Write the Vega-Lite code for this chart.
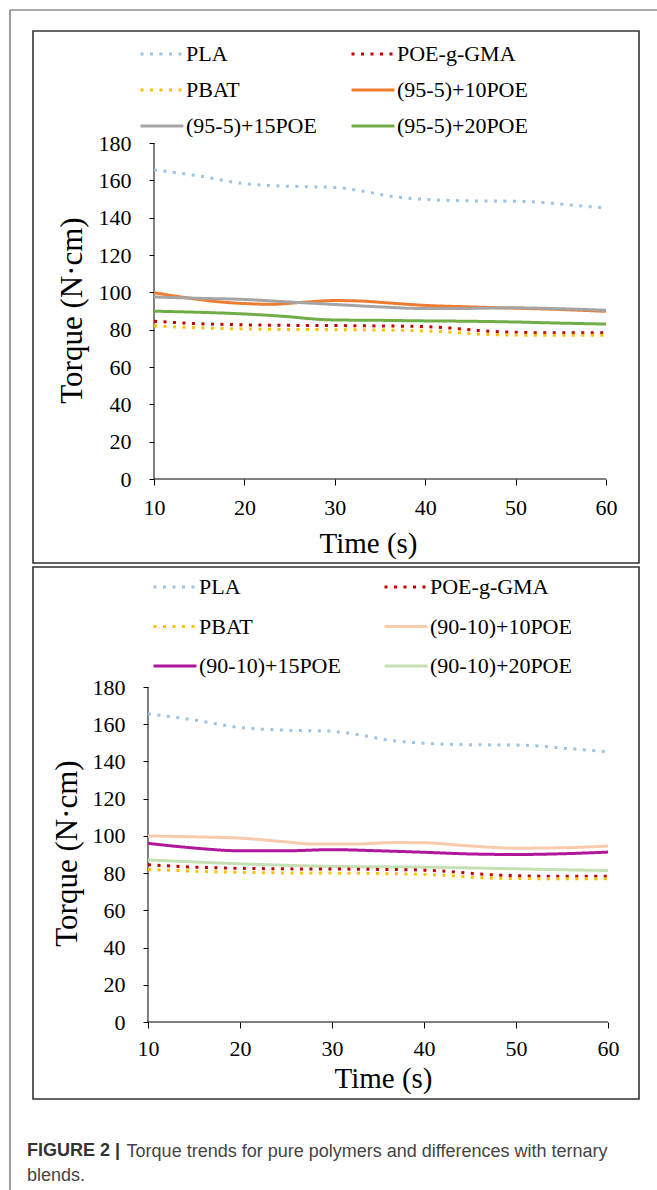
{
  "$schema": "https://vega.github.io/schema/vega-lite/v6.json",
  "background": "white",
  "padding": {"left": 8, "top": 8, "right": 0, "bottom": 0},
  "spacing": 4,
  "bounds": "flush",
  "config": {
    "view": {"stroke": "#333333", "strokeWidth": 1.6},
    "axis": {"grid": false, "domain": false, "labelFont": "Liberation Serif", "labelFontSize": 22, "labelColor": "#000000", "tickColor": "#000000", "tickWidth": 1, "titleFont": "Liberation Serif", "titleFontSize": 29, "titleFontWeight": "normal", "titleColor": "#000000", "labelFlush": false, "labelOverlap": false},
    "axisY": {"titleFontSize": 31},
    "legend": {"orient": "none", "direction": "horizontal", "columns": 2, "symbolType": "stroke", "symbolSize": 1849, "symbolStrokeWidth": 3, "labelFont": "Liberation Serif", "labelFontSize": 22, "labelColor": "#000000", "labelOffset": 1, "padding": 0}
  },
  "title": {"text": "Torque trends for pure polymers and differences with ternary", "orient": "bottom", "anchor": "start", "frame": "bounds", "dx": 118, "offset": -50, "font": "Liberation Sans", "fontSize": 18, "fontWeight": "normal", "color": "#444444"},
  "datasets": {
    "pure": [
      {"s": "PLA", "t": 10, "v": 165.6}, {"s": "PLA", "t": 15, "v": 162.3}, {"s": "PLA", "t": 20, "v": 158.2}, {"s": "PLA", "t": 25, "v": 156.8}, {"s": "PLA", "t": 30, "v": 156.2}, {"s": "PLA", "t": 33, "v": 154.3}, {"s": "PLA", "t": 36, "v": 151.6}, {"s": "PLA", "t": 40, "v": 149.8}, {"s": "PLA", "t": 45, "v": 149}, {"s": "PLA", "t": 50, "v": 148.8}, {"s": "PLA", "t": 53, "v": 148.1}, {"s": "PLA", "t": 56, "v": 146.8}, {"s": "PLA", "t": 60, "v": 145.2},
      {"s": "POE-g-GMA", "t": 10, "v": 84.5}, {"s": "POE-g-GMA", "t": 15, "v": 83.2}, {"s": "POE-g-GMA", "t": 20, "v": 82.6}, {"s": "POE-g-GMA", "t": 25, "v": 82.3}, {"s": "POE-g-GMA", "t": 30, "v": 82.2}, {"s": "POE-g-GMA", "t": 35, "v": 82}, {"s": "POE-g-GMA", "t": 40, "v": 81.6}, {"s": "POE-g-GMA", "t": 43, "v": 80.8}, {"s": "POE-g-GMA", "t": 46, "v": 79.5}, {"s": "POE-g-GMA", "t": 50, "v": 78.6}, {"s": "POE-g-GMA", "t": 55, "v": 78.3}, {"s": "POE-g-GMA", "t": 60, "v": 78.3},
      {"s": "PBAT", "t": 10, "v": 82}, {"s": "PBAT", "t": 15, "v": 81}, {"s": "PBAT", "t": 20, "v": 80.4}, {"s": "PBAT", "t": 25, "v": 80.1}, {"s": "PBAT", "t": 30, "v": 80}, {"s": "PBAT", "t": 35, "v": 79.8}, {"s": "PBAT", "t": 40, "v": 79.3}, {"s": "PBAT", "t": 43, "v": 78.6}, {"s": "PBAT", "t": 46, "v": 77.6}, {"s": "PBAT", "t": 50, "v": 77.1}, {"s": "PBAT", "t": 55, "v": 77}, {"s": "PBAT", "t": 60, "v": 77}
    ],
    "b95": [
      {"s": "(95-5)+10POE", "t": 10, "v": 99.8}, {"s": "(95-5)+10POE", "t": 13, "v": 97.5}, {"s": "(95-5)+10POE", "t": 17, "v": 95}, {"s": "(95-5)+10POE", "t": 20, "v": 94}, {"s": "(95-5)+10POE", "t": 23, "v": 93.6}, {"s": "(95-5)+10POE", "t": 26, "v": 94.5}, {"s": "(95-5)+10POE", "t": 30, "v": 95.6}, {"s": "(95-5)+10POE", "t": 33, "v": 95.3}, {"s": "(95-5)+10POE", "t": 36, "v": 94.3}, {"s": "(95-5)+10POE", "t": 40, "v": 93}, {"s": "(95-5)+10POE", "t": 45, "v": 92.2}, {"s": "(95-5)+10POE", "t": 50, "v": 91.5}, {"s": "(95-5)+10POE", "t": 55, "v": 90.8}, {"s": "(95-5)+10POE", "t": 60, "v": 89.8},
      {"s": "(95-5)+15POE", "t": 10, "v": 97.5}, {"s": "(95-5)+15POE", "t": 15, "v": 96.8}, {"s": "(95-5)+15POE", "t": 20, "v": 96.2}, {"s": "(95-5)+15POE", "t": 25, "v": 94.8}, {"s": "(95-5)+15POE", "t": 30, "v": 93.5}, {"s": "(95-5)+15POE", "t": 35, "v": 92.2}, {"s": "(95-5)+15POE", "t": 40, "v": 91.3}, {"s": "(95-5)+15POE", "t": 45, "v": 91.4}, {"s": "(95-5)+15POE", "t": 50, "v": 91.7}, {"s": "(95-5)+15POE", "t": 55, "v": 91.2}, {"s": "(95-5)+15POE", "t": 60, "v": 90.4},
      {"s": "(95-5)+20POE", "t": 10, "v": 89.9}, {"s": "(95-5)+20POE", "t": 15, "v": 89.3}, {"s": "(95-5)+20POE", "t": 20, "v": 88.4}, {"s": "(95-5)+20POE", "t": 25, "v": 86.9}, {"s": "(95-5)+20POE", "t": 28, "v": 85.6}, {"s": "(95-5)+20POE", "t": 30, "v": 85.2}, {"s": "(95-5)+20POE", "t": 35, "v": 85}, {"s": "(95-5)+20POE", "t": 40, "v": 84.7}, {"s": "(95-5)+20POE", "t": 45, "v": 84.5}, {"s": "(95-5)+20POE", "t": 50, "v": 84.1}, {"s": "(95-5)+20POE", "t": 55, "v": 83.5}, {"s": "(95-5)+20POE", "t": 60, "v": 83}
    ],
    "b90": [
      {"s": "(90-10)+10POE", "t": 10, "v": 100}, {"s": "(90-10)+10POE", "t": 15, "v": 99.5}, {"s": "(90-10)+10POE", "t": 20, "v": 98.8}, {"s": "(90-10)+10POE", "t": 25, "v": 96.8}, {"s": "(90-10)+10POE", "t": 28, "v": 95.6}, {"s": "(90-10)+10POE", "t": 32, "v": 95.6}, {"s": "(90-10)+10POE", "t": 37, "v": 96.4}, {"s": "(90-10)+10POE", "t": 40, "v": 96.3}, {"s": "(90-10)+10POE", "t": 45, "v": 94.6}, {"s": "(90-10)+10POE", "t": 50, "v": 93.4}, {"s": "(90-10)+10POE", "t": 55, "v": 93.6}, {"s": "(90-10)+10POE", "t": 60, "v": 94.6},
      {"s": "(90-10)+15POE", "t": 10, "v": 96}, {"s": "(90-10)+15POE", "t": 15, "v": 93.5}, {"s": "(90-10)+15POE", "t": 20, "v": 92}, {"s": "(90-10)+15POE", "t": 25, "v": 92}, {"s": "(90-10)+15POE", "t": 30, "v": 92.6}, {"s": "(90-10)+15POE", "t": 35, "v": 92}, {"s": "(90-10)+15POE", "t": 40, "v": 91.2}, {"s": "(90-10)+15POE", "t": 45, "v": 90.3}, {"s": "(90-10)+15POE", "t": 50, "v": 90}, {"s": "(90-10)+15POE", "t": 55, "v": 90.4}, {"s": "(90-10)+15POE", "t": 60, "v": 91.3},
      {"s": "(90-10)+20POE", "t": 10, "v": 87.1}, {"s": "(90-10)+20POE", "t": 15, "v": 86}, {"s": "(90-10)+20POE", "t": 20, "v": 85}, {"s": "(90-10)+20POE", "t": 25, "v": 84.2}, {"s": "(90-10)+20POE", "t": 30, "v": 83.6}, {"s": "(90-10)+20POE", "t": 35, "v": 83.4}, {"s": "(90-10)+20POE", "t": 40, "v": 83.2}, {"s": "(90-10)+20POE", "t": 45, "v": 82.8}, {"s": "(90-10)+20POE", "t": 50, "v": 82.3}, {"s": "(90-10)+20POE", "t": 55, "v": 81.8}, {"s": "(90-10)+20POE", "t": 60, "v": 81.4}
    ]
  },
  "vconcat": [
    {
      "width": 606,
      "height": 532,
      "layer": [
        {
          "data": {"values": [{}]},
          "mark": {"type": "rule", "color": "#5a5a5a", "strokeWidth": 1.2},
          "encoding": {
            "x": {"datum": -5.929, "type": "quantitative", "scale": {"domain": [-3.385, 63.65], "nice": false, "zero": false}, "axis": {"values": [10, 20, 30, 40, 50, 60], "offset": -84, "tickSize": 6, "labelPadding": 12, "title": "Time (s)", "titleX": 335, "titlePadding": 11}},
            "y": {"datum": 251.25, "type": "quantitative", "scale": {"domain": [-45, 240], "nice": false, "zero": false}, "axis": {"values": [0, 20, 40, 60, 80, 100, 120, 140, 160, 180], "offset": -121, "tickSize": 5, "labelPadding": 18, "title": "Torque (N·cm)", "titleY": 279, "titlePadding": 10}},
            "y2": {"datum": -382}
          }
        },
        {
          "data": {"values": [{}]},
          "mark": {"type": "rule", "color": "#5a5a5a", "strokeWidth": 1.2},
          "encoding": {
            "x": {"datum": -5.929, "type": "quantitative", "scale": {"domain": [-3.385, 63.65], "nice": false, "zero": false}, "axis": {"values": [10, 20, 30, 40, 50, 60], "offset": -84, "tickSize": 6, "labelPadding": 12, "title": "Time (s)", "titleX": 335, "titlePadding": 11}},
            "x2": {"datum": 66.5},
            "y": {"datum": 251.25, "type": "quantitative", "scale": {"domain": [-45, 240], "nice": false, "zero": false}, "axis": {"values": [0, 20, 40, 60, 80, 100, 120, 140, 160, 180], "offset": -121, "tickSize": 5, "labelPadding": 18, "title": "Torque (N·cm)", "titleY": 279, "titlePadding": 10}}
          }
        },
        {
          "data": {"values": [{}]},
          "mark": {"type": "rule", "color": "#000000", "strokeWidth": 1},
          "encoding": {
            "x": {"datum": 10, "type": "quantitative", "scale": {"domain": [-3.385, 63.65], "nice": false, "zero": false}, "axis": {"values": [10, 20, 30, 40, 50, 60], "offset": -84, "tickSize": 6, "labelPadding": 12, "title": "Time (s)", "titleX": 335, "titlePadding": 11}},
            "y": {"datum": 0, "type": "quantitative", "scale": {"domain": [-45, 240], "nice": false, "zero": false}, "axis": {"values": [0, 20, 40, 60, 80, 100, 120, 140, 160, 180], "offset": -121, "tickSize": 5, "labelPadding": 18, "title": "Torque (N·cm)", "titleY": 279, "titlePadding": 10}},
            "y2": {"datum": 180}
          }
        },
        {
          "data": {"values": [{}]},
          "mark": {"type": "rule", "color": "#000000", "strokeWidth": 1},
          "encoding": {
            "x": {"datum": 10, "type": "quantitative", "scale": {"domain": [-3.385, 63.65], "nice": false, "zero": false}, "axis": {"values": [10, 20, 30, 40, 50, 60], "offset": -84, "tickSize": 6, "labelPadding": 12, "title": "Time (s)", "titleX": 335, "titlePadding": 11}},
            "x2": {"datum": 60},
            "y": {"datum": 0, "type": "quantitative", "scale": {"domain": [-45, 240], "nice": false, "zero": false}, "axis": {"values": [0, 20, 40, 60, 80, 100, 120, 140, 160, 180], "offset": -121, "tickSize": 5, "labelPadding": 18, "title": "Torque (N·cm)", "titleY": 279, "titlePadding": 10}}
          }
        },
        {
          "data": {"name": "b95"},
          "mark": {"type": "line", "interpolate": "monotone", "strokeWidth": 3},
          "encoding": {
            "x": {"field": "t", "type": "quantitative", "scale": {"domain": [-3.385, 63.65], "nice": false, "zero": false}, "axis": {"values": [10, 20, 30, 40, 50, 60], "offset": -84, "tickSize": 6, "labelPadding": 12, "title": "Time (s)", "titleX": 335, "titlePadding": 11}},
            "y": {"field": "v", "type": "quantitative", "scale": {"domain": [-45, 240], "nice": false, "zero": false}, "axis": {"values": [0, 20, 40, 60, 80, 100, 120, 140, 160, 180], "offset": -121, "tickSize": 5, "labelPadding": 18, "title": "Torque (N·cm)", "titleY": 279, "titlePadding": 10}},
            "color": {"field": "s", "type": "nominal", "scale": {"domain": ["PLA", "POE-g-GMA", "PBAT", "(95-5)+10POE", "(95-5)+15POE", "(95-5)+20POE"], "range": ["#9DC3E6", "#C00000", "#FFC000", "#ED7D31", "#A5A5A5", "#70AD47"]}, "legend": {"title": null, "legendX": 106, "legendY": 0, "columnPadding": 28, "rowPadding": 2}},
            "strokeDash": {"field": "s", "type": "nominal", "scale": {"domain": ["PLA", "POE-g-GMA", "PBAT", "(95-5)+10POE", "(95-5)+15POE", "(95-5)+20POE"], "range": [[3, 6.5], [3, 6.5], [3, 6.5], [1, 0], [1, 0], [1, 0]]}, "legend": {"title": null, "legendX": 106, "legendY": 0, "columnPadding": 28, "rowPadding": 2}}
          }
        },
        {
          "data": {"name": "pure"},
          "mark": {"type": "line", "interpolate": "monotone", "strokeWidth": 3},
          "encoding": {
            "x": {"field": "t", "type": "quantitative", "scale": {"domain": [-3.385, 63.65], "nice": false, "zero": false}, "axis": {"values": [10, 20, 30, 40, 50, 60], "offset": -84, "tickSize": 6, "labelPadding": 12, "title": "Time (s)", "titleX": 335, "titlePadding": 11}},
            "y": {"field": "v", "type": "quantitative", "scale": {"domain": [-45, 240], "nice": false, "zero": false}, "axis": {"values": [0, 20, 40, 60, 80, 100, 120, 140, 160, 180], "offset": -121, "tickSize": 5, "labelPadding": 18, "title": "Torque (N·cm)", "titleY": 279, "titlePadding": 10}},
            "color": {"field": "s", "type": "nominal", "scale": {"domain": ["PLA", "POE-g-GMA", "PBAT", "(95-5)+10POE", "(95-5)+15POE", "(95-5)+20POE"], "range": ["#9DC3E6", "#C00000", "#FFC000", "#ED7D31", "#A5A5A5", "#70AD47"]}, "legend": {"title": null, "legendX": 106, "legendY": 0, "columnPadding": 28, "rowPadding": 2}},
            "strokeDash": {"field": "s", "type": "nominal", "scale": {"domain": ["PLA", "POE-g-GMA", "PBAT", "(95-5)+10POE", "(95-5)+15POE", "(95-5)+20POE"], "range": [[3, 6.5], [3, 6.5], [3, 6.5], [1, 0], [1, 0], [1, 0]]}, "legend": {"title": null, "legendX": 106, "legendY": 0, "columnPadding": 28, "rowPadding": 2}}
          }
        }
      ]
    },
    {
      "width": 606,
      "height": 532,
      "title": {"text": "FIGURE 2 |", "subtitle": "blends.", "orient": "bottom", "anchor": "start", "frame": "group", "dx": -6, "offset": 43, "font": "Liberation Sans", "fontSize": 18, "fontWeight": "bold", "color": "#333333", "subtitleFont": "Liberation Sans", "subtitleFontSize": 18, "subtitleFontWeight": "normal", "subtitleColor": "#444444", "subtitlePadding": 7},
      "layer": [
        {
          "data": {"values": [{}]},
          "mark": {"type": "rule", "color": "#000000", "strokeWidth": 1},
          "encoding": {
            "x": {"datum": 10, "type": "quantitative", "scale": {"domain": [-2.5, 63.37], "nice": false, "zero": false}, "axis": {"values": [10, 20, 30, 40, 50, 60], "offset": -77, "tickSize": 6, "labelPadding": 10, "title": "Time (s)", "titleX": 350, "titlePadding": 5}},
            "y": {"datum": 0, "type": "quantitative", "scale": {"domain": [-41.37, 244.48], "nice": false, "zero": false}, "axis": {"values": [0, 20, 40, 60, 80, 100, 120, 140, 160, 180], "offset": -115, "tickSize": 5, "labelPadding": 18, "title": "Torque (N·cm)", "titleY": 286, "titlePadding": 9}},
            "y2": {"datum": 180}
          }
        },
        {
          "data": {"values": [{}]},
          "mark": {"type": "rule", "color": "#000000", "strokeWidth": 1},
          "encoding": {
            "x": {"datum": 10, "type": "quantitative", "scale": {"domain": [-2.5, 63.37], "nice": false, "zero": false}, "axis": {"values": [10, 20, 30, 40, 50, 60], "offset": -77, "tickSize": 6, "labelPadding": 10, "title": "Time (s)", "titleX": 350, "titlePadding": 5}},
            "x2": {"datum": 60},
            "y": {"datum": 0, "type": "quantitative", "scale": {"domain": [-41.37, 244.48], "nice": false, "zero": false}, "axis": {"values": [0, 20, 40, 60, 80, 100, 120, 140, 160, 180], "offset": -115, "tickSize": 5, "labelPadding": 18, "title": "Torque (N·cm)", "titleY": 286, "titlePadding": 9}}
          }
        },
        {
          "data": {"name": "b90"},
          "mark": {"type": "line", "interpolate": "monotone", "strokeWidth": 3},
          "encoding": {
            "x": {"field": "t", "type": "quantitative", "scale": {"domain": [-2.5, 63.37], "nice": false, "zero": false}, "axis": {"values": [10, 20, 30, 40, 50, 60], "offset": -77, "tickSize": 6, "labelPadding": 10, "title": "Time (s)", "titleX": 350, "titlePadding": 5}},
            "y": {"field": "v", "type": "quantitative", "scale": {"domain": [-41.37, 244.48], "nice": false, "zero": false}, "axis": {"values": [0, 20, 40, 60, 80, 100, 120, 140, 160, 180], "offset": -115, "tickSize": 5, "labelPadding": 18, "title": "Torque (N·cm)", "titleY": 286, "titlePadding": 9}},
            "color": {"field": "s", "type": "nominal", "scale": {"domain": ["PLA", "POE-g-GMA", "PBAT", "(90-10)+10POE", "(90-10)+15POE", "(90-10)+20POE"], "range": ["#9DC3E6", "#C00000", "#FFC000", "#F8CBAD", "#B0179B", "#C5E0B4"]}, "legend": {"title": null, "legendX": 119, "legendY": -3, "columnPadding": 37, "rowPadding": 5.5}},
            "strokeDash": {"field": "s", "type": "nominal", "scale": {"domain": ["PLA", "POE-g-GMA", "PBAT", "(90-10)+10POE", "(90-10)+15POE", "(90-10)+20POE"], "range": [[3, 6.5], [3, 6.5], [3, 6.5], [1, 0], [1, 0], [1, 0]]}, "legend": {"title": null, "legendX": 119, "legendY": -3, "columnPadding": 37, "rowPadding": 5.5}}
          }
        },
        {
          "data": {"name": "pure"},
          "mark": {"type": "line", "interpolate": "monotone", "strokeWidth": 3},
          "encoding": {
            "x": {"field": "t", "type": "quantitative", "scale": {"domain": [-2.5, 63.37], "nice": false, "zero": false}, "axis": {"values": [10, 20, 30, 40, 50, 60], "offset": -77, "tickSize": 6, "labelPadding": 10, "title": "Time (s)", "titleX": 350, "titlePadding": 5}},
            "y": {"field": "v", "type": "quantitative", "scale": {"domain": [-41.37, 244.48], "nice": false, "zero": false}, "axis": {"values": [0, 20, 40, 60, 80, 100, 120, 140, 160, 180], "offset": -115, "tickSize": 5, "labelPadding": 18, "title": "Torque (N·cm)", "titleY": 286, "titlePadding": 9}},
            "color": {"field": "s", "type": "nominal", "scale": {"domain": ["PLA", "POE-g-GMA", "PBAT", "(90-10)+10POE", "(90-10)+15POE", "(90-10)+20POE"], "range": ["#9DC3E6", "#C00000", "#FFC000", "#F8CBAD", "#B0179B", "#C5E0B4"]}, "legend": {"title": null, "legendX": 119, "legendY": -3, "columnPadding": 37, "rowPadding": 5.5}},
            "strokeDash": {"field": "s", "type": "nominal", "scale": {"domain": ["PLA", "POE-g-GMA", "PBAT", "(90-10)+10POE", "(90-10)+15POE", "(90-10)+20POE"], "range": [[3, 6.5], [3, 6.5], [3, 6.5], [1, 0], [1, 0], [1, 0]]}, "legend": {"title": null, "legendX": 119, "legendY": -3, "columnPadding": 37, "rowPadding": 5.5}}
          }
        }
      ]
    }
  ],
  "resolve": {"scale": {"x": "independent", "y": "independent", "color": "independent", "strokeDash": "independent"}, "legend": {"color": "independent", "strokeDash": "independent"}}
}
